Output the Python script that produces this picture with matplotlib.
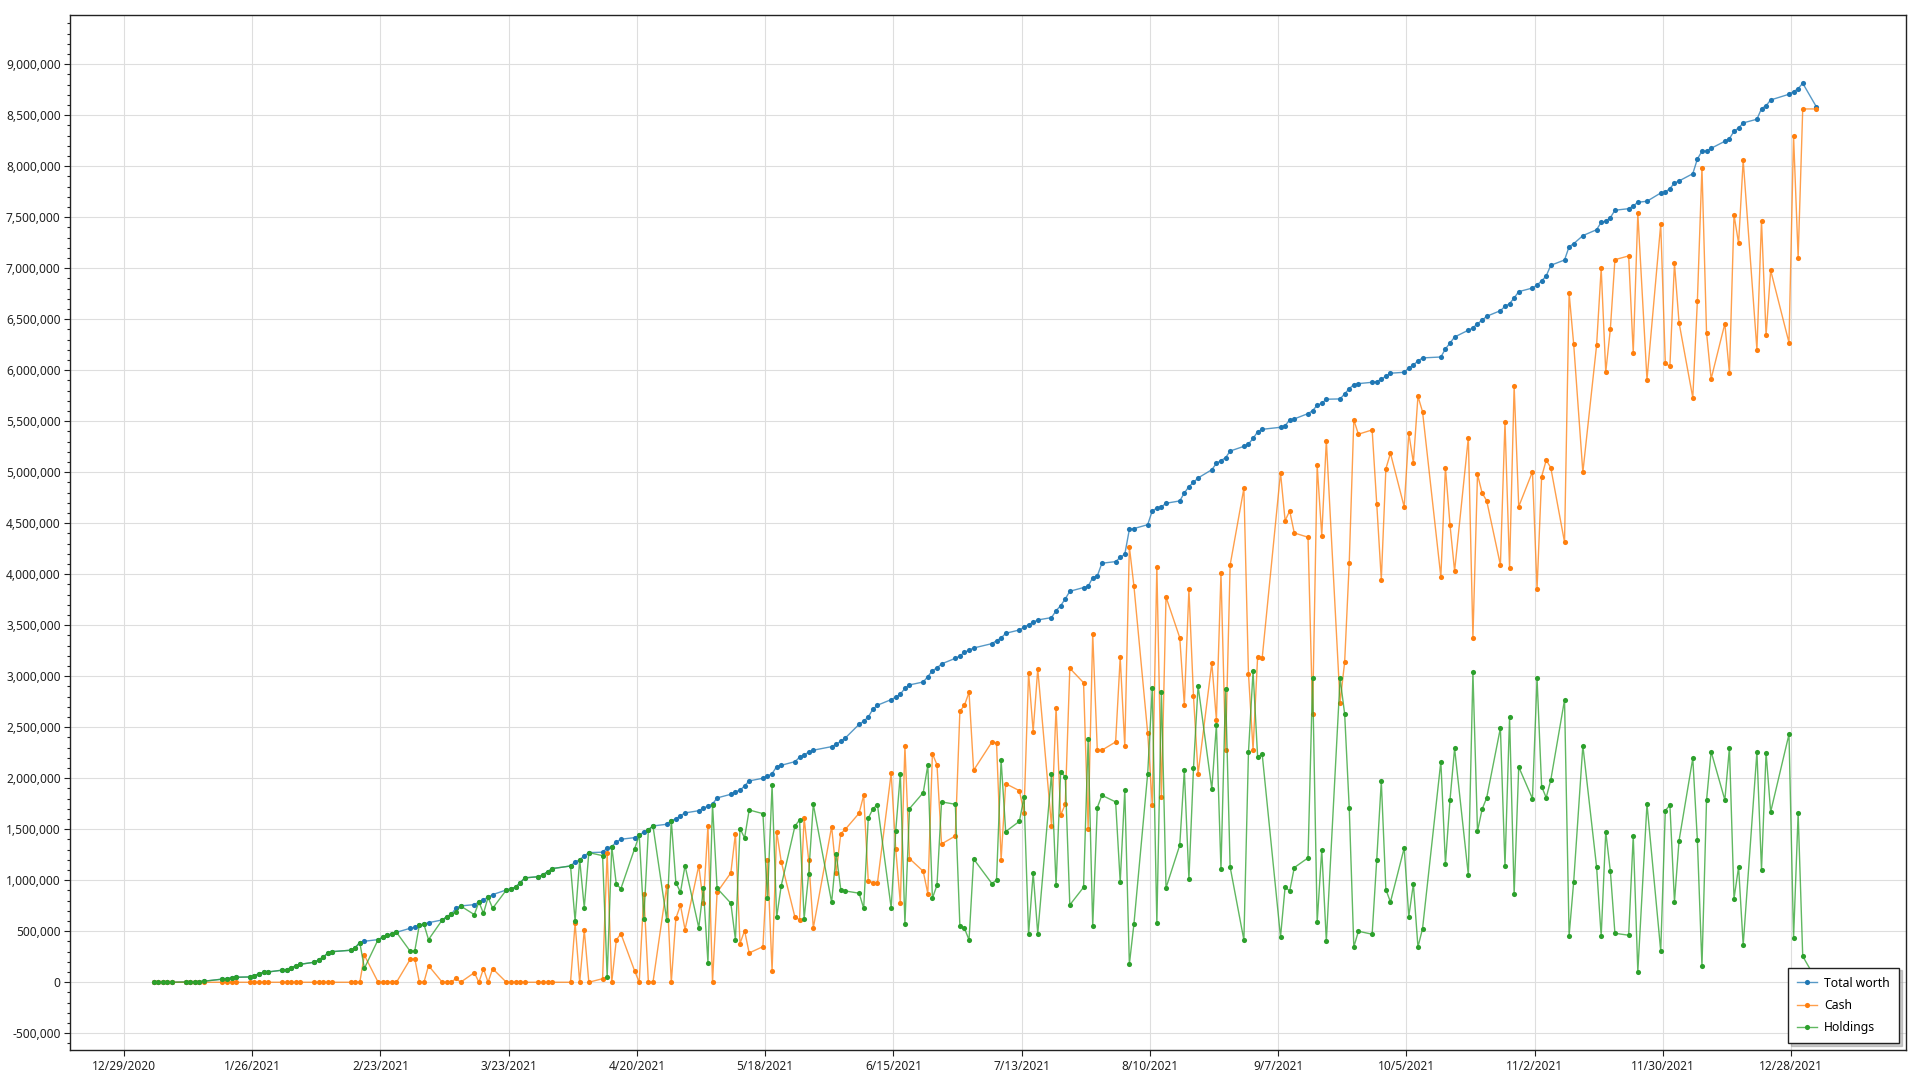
import numpy as np
import pandas as pd
import matplotlib
matplotlib.use("Agg")
import matplotlib.pyplot as plt
import matplotlib.dates as mdates
from matplotlib.ticker import MultipleLocator, FuncFormatter, FixedLocator
from datetime import datetime

plt.rcParams['font.family'] = ['Noto Sans', 'DejaVu Sans']

# days that have a point (market holidays and 10/11, 11/11 are skipped)
holidays = ["2021-01-18", "2021-02-15", "2021-04-02", "2021-05-31", "2021-07-05",
            "2021-09-06", "2021-10-11", "2021-11-11", "2021-11-25", "2021-12-24"]
days = pd.bdate_range("2021-01-04", "2021-12-30", freq="C", holidays=holidays)
days = days.append(pd.DatetimeIndex(["2022-01-02"]))

# x tick dates, every 4 weeks
tick_dates = pd.date_range("2020-12-29", "2021-12-28", freq="28D")

# values in millions, one per day, month by month
total_worth = [
    # jan
    0, 0, 0, 0, 0, 0.002, 0.003, 0.005, 0.007, 0.010, 0.030, 0.036, 0.042, 0.049,
    0.052, 0.065, 0.085, 0.098, 0.101,
    # feb
    0.118, 0.124, 0.144, 0.160, 0.176, 0.196, 0.219, 0.248, 0.284, 0.300, 0.314,
    0.340, 0.389, 0.402, 0.418, 0.441, 0.461, 0.473, 0.490,
    # mar
    0.529, 0.539, 0.562, 0.567, 0.584, 0.611, 0.643, 0.667, 0.728, 0.748, 0.761,
    0.787, 0.810, 0.833, 0.859, 0.905, 0.915, 0.934, 0.974, 1.023, 1.035, 1.055, 1.085,
    # apr
    1.114, 1.140, 1.179, 1.202, 1.238, 1.271, 1.275, 1.317, 1.330, 1.375, 1.402,
    1.418, 1.441, 1.474, 1.496, 1.532, 1.549, 1.585, 1.601, 1.633, 1.660,
    # may
    1.682, 1.706, 1.728, 1.748, 1.807, 1.843, 1.869, 1.882, 1.925, 1.974, 2.000,
    2.020, 2.045, 2.114, 2.127, 2.163, 2.206, 2.231, 2.255, 2.275,
    # jun
    2.310, 2.333, 2.363, 2.395, 2.529, 2.559, 2.601, 2.676, 2.716, 2.771, 2.794,
    2.824, 2.882, 2.915, 2.944, 2.996, 3.055, 3.081, 3.121, 3.176, 3.199, 3.235,
    # jul
    3.255, 3.277, 3.320, 3.349, 3.375, 3.421, 3.454, 3.480, 3.506, 3.529, 3.552,
    3.575, 3.643, 3.692, 3.758, 3.833, 3.869, 3.882, 3.967, 3.983, 4.108,
    # aug
    4.124, 4.165, 4.196, 4.440, 4.448, 4.486, 4.622, 4.648, 4.661, 4.696, 4.719,
    4.797, 4.859, 4.901, 4.944, 5.025, 5.087, 5.115, 5.142, 5.208, 5.254, 5.277,
    # sep
    5.331, 5.397, 5.421, 5.441, 5.457, 5.513, 5.523, 5.575, 5.604, 5.657, 5.676,
    5.716, 5.719, 5.768, 5.820, 5.859, 5.869, 5.882, 5.889, 5.912, 5.941,
    # oct
    5.971, 5.980, 6.023, 6.052, 6.091, 6.121, 6.130, 6.209, 6.268, 6.326, 6.392,
    6.415, 6.457, 6.490, 6.529, 6.584, 6.627, 6.653, 6.709, 6.771,
    # nov
    6.806, 6.836, 6.876, 6.925, 7.029, 7.081, 7.212, 7.241, 7.320, 7.378, 7.451,
    7.461, 7.496, 7.569, 7.584, 7.611, 7.647, 7.657, 7.738, 7.748,
    # dec
    7.781, 7.836, 7.856, 7.927, 8.071, 8.147, 8.150, 8.176, 8.245, 8.271, 8.343,
    8.375, 8.425, 8.461, 8.565, 8.594, 8.650, 8.706, 8.731, 8.761, 8.814,
    # jan 2022
    8.581,
]

cash = [
    # jan
    0, 0, 0, 0, 0, 0, 0, 0, 0, 0, 0, 0, 0, 0, 0, 0, 0, 0, 0,
    # feb
    0, 0, 0, 0, 0, 0, 0, 0, 0, 0, 0, 0, 0, 0.265, 0, 0, 0, 0, 0,
    # mar
    0.225, 0.231, 0, 0, 0.163, 0, 0, 0, 0.039, 0, 0.094, 0, 0.133, 0, 0.133,
    0, 0, 0, 0, 0, 0, 0, 0,
    # apr
    0, 0, 0.578, 0, 0.510, 0, 0.035, 1.270, 0, 0.415, 0.476, 0.111, 0, 0.863,
    0, 0, 0.941, 0, 0.627, 0.755, 0.516,
    # may
    1.143, 0.775, 1.532, 0, 0.882, 1.072, 1.457, 0.379, 0.506, 0.287, 0.349,
    1.196, 0.111, 1.476, 1.183, 0.637, 0.614, 1.611, 1.196, 0.532,
    # jun
    1.526, 1.072, 1.457, 1.500, 1.657, 1.833, 0.993, 0.977, 0.974, 2.049, 1.304,
    0.775, 2.314, 1.212, 1.088, 0.869, 2.241, 2.133, 1.356, 1.434, 2.657, 2.716,
    # jul
    2.843, 2.078, 2.356, 2.346, 1.199, 1.947, 1.878, 1.663, 3.035, 2.457, 3.072,
    1.535, 2.692, 1.637, 1.745, 3.078, 2.937, 1.506, 3.415, 2.275, 2.275,
    # aug
    2.356, 3.184, 2.313, 4.270, 3.882, 2.444, 1.739, 4.076, 1.817, 3.777, 3.378,
    2.720, 3.851, 2.805, 2.041, 3.130, 2.573, 4.010, 2.274, 4.091, 4.843, 3.026,
    # sep
    2.281, 3.192, 3.180, 4.996, 4.526, 4.621, 4.405, 4.363, 2.627, 5.069, 4.378,
    5.310, 2.741, 3.140, 4.114, 5.513, 5.373, 5.415, 4.692, 3.947, 5.035,
    # oct
    5.186, 4.660, 5.382, 5.094, 5.745, 5.594, 3.974, 5.045, 4.483, 4.032, 5.339,
    3.378, 4.980, 4.797, 4.722, 4.091, 5.493, 4.059, 5.846, 4.663,
    # nov
    5.006, 3.856, 4.957, 5.118, 5.045, 4.314, 6.755, 6.255, 5.000, 6.245, 7.000,
    5.983, 6.402, 7.084, 7.121, 6.170, 7.539, 5.908, 7.431, 6.069,
    # dec
    6.039, 7.049, 6.467, 5.731, 6.676, 7.986, 6.369, 5.915, 6.457, 5.971, 7.523,
    7.245, 8.059, 6.202, 7.464, 6.343, 6.980, 6.271, 8.297, 7.104, 8.562,
    # jan 2022
    8.562,
]

holdings = [
    # jan
    0, 0, 0, 0, 0, 0.002, 0.003, 0.005, 0.007, 0.010, 0.030, 0.036, 0.042, 0.049,
    0.052, 0.065, 0.085, 0.098, 0.101,
    # feb
    0.118, 0.124, 0.144, 0.160, 0.176, 0.196, 0.219, 0.248, 0.284, 0.300, 0.314,
    0.340, 0.389, 0.137, 0.418, 0.441, 0.461, 0.473, 0.490,
    # mar
    0.304, 0.308, 0.562, 0.567, 0.418, 0.611, 0.643, 0.667, 0.686, 0.748, 0.663,
    0.787, 0.676, 0.833, 0.725, 0.905, 0.915, 0.934, 0.974, 1.023, 1.035, 1.055, 1.085,
    # apr
    1.114, 1.140, 0.601, 1.202, 0.731, 1.271, 1.241, 0.052, 1.330, 0.961, 0.918,
    1.310, 1.441, 0.618, 1.496, 1.532, 0.611, 1.585, 0.976, 0.882, 1.143,
    # may
    0.535, 0.921, 0.192, 1.741, 0.921, 0.775, 0.418, 1.506, 1.415, 1.689, 1.653,
    0.829, 1.931, 0.637, 0.947, 1.532, 1.591, 0.624, 1.065, 1.745,
    # jun
    0.784, 1.261, 0.908, 0.895, 0.873, 0.725, 1.608, 1.699, 1.741, 0.728, 1.486,
    2.045, 0.572, 1.702, 1.859, 2.127, 0.824, 0.951, 1.768, 1.745, 0.552, 0.529,
    # jul
    0.415, 1.209, 0.967, 1.003, 2.179, 1.477, 1.578, 1.817, 0.471, 1.072, 0.477,
    2.045, 0.951, 2.059, 2.016, 0.758, 0.931, 2.382, 0.552, 1.712, 1.833,
    # aug
    1.768, 0.983, 1.882, 0.177, 0.573, 2.045, 2.882, 0.576, 2.847, 0.925, 1.344,
    2.076, 1.011, 2.100, 2.906, 1.894, 2.522, 1.108, 2.871, 1.130, 0.414, 2.255,
    # sep
    3.049, 2.212, 2.234, 0.444, 0.934, 0.895, 1.124, 1.219, 2.980, 0.588, 1.297,
    0.405, 2.980, 2.630, 1.709, 0.346, 0.500, 0.471, 1.199, 1.971, 0.908,
    # oct
    0.787, 1.317, 0.643, 0.964, 0.346, 0.525, 2.163, 1.163, 1.787, 2.294, 1.052,
    3.039, 1.480, 1.696, 1.807, 2.493, 1.137, 2.598, 0.863, 2.111,
    # nov
    1.800, 2.980, 1.918, 1.810, 1.983, 2.768, 0.457, 0.986, 2.320, 1.130, 0.451,
    1.474, 1.091, 0.480, 0.461, 1.437, 0.104, 1.748, 0.307, 1.682,
    # dec
    1.738, 0.790, 1.388, 2.196, 1.395, 0.157, 1.784, 2.261, 1.787, 2.300, 0.820,
    1.130, 0.363, 2.258, 1.101, 2.251, 1.670, 2.431, 0.434, 1.657, 0.255,
    # jan 2022
    0.020,
]

series = [
    ("Total worth", total_worth, "#1f77b4"),
    ("Cash", cash, "#ff7f0e"),
    ("Holdings", holdings, "#2ca02c"),
]

x = days + pd.Timedelta(hours=12)

fig = plt.figure(figsize=(19.2, 10.8), dpi=100)
ax = fig.add_axes([0.0366, 0.0278, 0.956, 0.9586])

for name, vals, col in series:
    rgb = matplotlib.colors.to_rgb(col)
    ax.plot(x, np.array(vals) * 1e6, color=(*rgb, 0.75), lw=1.0,
            marker='o', ms=3.7, mfc=col, mec=col, mew=0, label=name)

ax.set_xlim(datetime(2020, 12, 17, 7), datetime(2022, 1, 22, 0))
ax.set_ylim(-664000, 9486000)

ax.yaxis.set_major_locator(MultipleLocator(500000))
ax.yaxis.set_minor_locator(MultipleLocator(100000))
ax.yaxis.set_major_formatter(FuncFormatter(lambda v, p: f"{v:,.0f}"))

ax.xaxis.set_major_locator(FixedLocator(mdates.date2num(tick_dates)))

def date_label(v, p):
    d = mdates.num2date(v)
    return f"{d.month}/{d.day}/{d.year}"

ax.xaxis.set_major_formatter(FuncFormatter(date_label))

ax.grid(True, which='major', color='#dedede', lw=0.8)
ax.set_axisbelow(True)
ax.tick_params(axis='both', which='major', length=4, width=0.8, labelsize=8.6,
               colors='#222222', pad=3)
ax.tick_params(axis='y', which='minor', length=2.2, width=0.8, color='#222222')
ax.tick_params(axis='x', which='minor', length=0)
for sp in ax.spines.values():
    sp.set_color('#222222')
    sp.set_linewidth(1.0)

leg = ax.legend(loc='lower right', fontsize=8.8, frameon=True, fancybox=False,
                edgecolor='#222222', framealpha=1, borderaxespad=0.55,
                handlelength=1.6, handletextpad=0.6, labelspacing=0.75,
                borderpad=0.75, shadow={'color': '0.6', 'alpha': 0.5})
leg.get_frame().set_linewidth(1.0)

fig.savefig("out.png", dpi=100)
